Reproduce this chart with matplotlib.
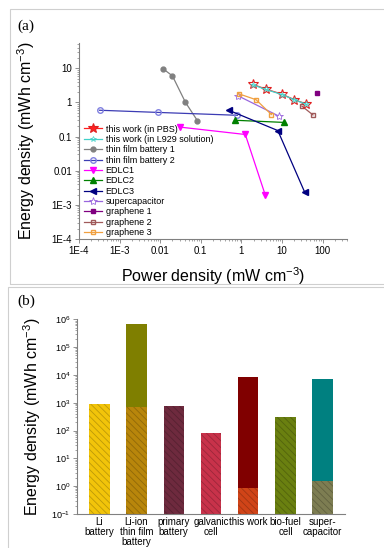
import matplotlib
matplotlib.use("Agg")
import matplotlib.pyplot as plt
from matplotlib.patches import Rectangle
import numpy as np

plt.rcParams['font.family'] = ['Liberation Sans', 'DejaVu Sans']
plt.rcParams['hatch.linewidth'] = 0.6
plt.rcParams['mathtext.default'] = 'regular'

# ---------------- Panel (a) data ----------------
pbs_x = [1.9, 4.0, 10.0, 20.0, 40.0]
pbs_y = [3.4, 2.45, 1.75, 1.2, 0.9]
l929_x = [1.9, 4.0, 10.0, 20.0, 40.0]
l929_y = [3.3, 2.4, 1.7, 1.2, 0.88]
tfb1_x = [0.012, 0.02, 0.042, 0.083]
tfb1_y = [9.5, 6.0, 1.0, 0.29]
tfb2_x = [3.2e-4, 0.0087, 0.8]
tfb2_y = [0.59, 0.51, 0.42]
edlc1_x = [0.03, 1.25, 3.9]
edlc1_y = [0.19, 0.115, 0.0019]
edlc2_x = [0.71, 11.0]
edlc2_y = [0.3, 0.26]
edlc3_x = [0.49, 7.9, 36.0]
edlc3_y = [0.59, 0.15, 0.0024]
sc_x = [0.84, 8.3]
sc_y = [1.55, 0.4]
g1_x = [74.0]
g1_y = [1.95]
g2_x = [31.0, 58.0]
g2_y = [0.78, 0.43]
g3_x = [0.85, 2.3, 5.5]
g3_y = [1.8, 1.2, 0.44]

# ---------------- Panel (b) data ----------------
categories = ["Li\nbattery", "Li-ion\nthin film\nbattery", "primary\nbattery",
              "galvanic\ncell", "this work", "bio-fuel\ncell", "super-\ncapacitor"]
lower_vals = [900, 720, 750, 80, 0.85, 300, 1.5]
upper_vals = [None, 7.0e5, None, None, 8700, None, 7400]
lower_colors = ['#f2c40a', '#b8860b', '#6e2a3e', '#c8324a', '#d04418', '#6a8010', '#7d7d52']
upper_colors = [None, '#7f7f00', None, None, '#800000', None, '#008080']

fig = plt.figure(figsize=(3.84, 5.48), dpi=100)
W, H = 384.0, 548.0

# panel frames
fig.add_artist(Rectangle((10 / W, 1 - 284 / H), 1.0, 275 / H, transform=fig.transFigure,
                         fill=False, edgecolor='#cfcfcf', lw=0.8))
fig.add_artist(Rectangle((8 / W, -0.05), 1.0, 1 - 287 / H + 0.05, transform=fig.transFigure,
                         fill=False, edgecolor='#cfcfcf', lw=0.8))

fig.text(17 / W, 1 - 26 / H, "(a)", family=['Liberation Serif', 'DejaVu Serif'],
         fontsize=11, va='center', ha='left')
fig.text(17 / W, 1 - 301 / H, "(b)", family=['Liberation Serif', 'DejaVu Serif'],
         fontsize=11, va='center', ha='left')

# ---------------- Axes (a) ----------------
axa = fig.add_axes([79 / W, 1 - 239 / H, (347 - 79) / W, (239 - 43) / H])
axa.set_xscale('log')
axa.set_yscale('log')

lw = 0.9
axa.plot(pbs_x, pbs_y, color='#ff2020', lw=lw, marker='*', ms=7.5, mfc='white',
         mec='#e02020', mew=0.8, label='this work (in PBS)', zorder=3)
axa.plot(l929_x, l929_y, color='#40d0c8', lw=lw, marker='*', ms=4, mfc='none',
         mec='#40d0c8', mew=0.5, label='this work (in L929 solution)', zorder=4)
axa.plot(tfb1_x, tfb1_y, color='#808080', lw=lw, marker='o', ms=3.5,
         label='thin film battery 1')
axa.plot(tfb2_x, tfb2_y, color='#3c3cb4', lw=lw, marker='o', ms=4, mfc='none',
         mec='#8080e0', label='thin film battery 2')
axa.plot(edlc1_x, edlc1_y, color='#ff00ff', lw=lw, marker='v', ms=4.5,
         label='EDLC1')
axa.plot(edlc2_x, edlc2_y, color='#008000', lw=lw, marker='^', ms=4.5,
         label='EDLC2')
axa.plot(edlc3_x, edlc3_y, color='#000080', lw=lw, marker='<', ms=4.5,
         label='EDLC3')
axa.plot(sc_x, sc_y, color='#9966dd', lw=lw, marker='*', ms=6, mfc='white',
         mec='#9966dd', mew=0.6, label='supercapacitor')
axa.plot(g1_x, g1_y, color='#800080', lw=lw, marker='s', ms=3.5,
         label='graphene 1')
axa.plot(g2_x, g2_y, color='#a05a5a', lw=lw, marker='s', ms=3.5, mfc='none',
         label='graphene 2')
axa.plot(g3_x, g3_y, color='#f0a040', lw=lw, marker='s', ms=3.5, mfc='none',
         label='graphene 3')

axa.set_xlim(1e-4, 400)
axa.set_ylim(1e-4, 55)
axa.set_xticks([1e-4, 1e-3, 1e-2, 1e-1, 1, 10, 100])
axa.set_xticklabels(['1E-4', '1E-3', '0.01', '0.1', '1', '10', '100'])
axa.set_yticks([1e-4, 1e-3, 1e-2, 1e-1, 1, 10])
axa.set_yticklabels(['1E-4', '1E-3', '0.01', '0.1', '1', '10'])
axa.tick_params(which='major', labelsize=7, direction='out', length=3, width=0.6,
                color='#808080', pad=2)
axa.tick_params(which='minor', direction='out', length=1.5, width=0.5, color='#808080')
for s in ['top', 'right']:
    axa.spines[s].set_visible(False)
for s in ['left', 'bottom']:
    axa.spines[s].set_color('#808080')
    axa.spines[s].set_linewidth(0.8)
axa.set_xlabel('Power density (mW cm$^{-3}$)', fontsize=11.5)
axa.set_ylabel('Energy density (mWh cm$^{-3}$)', fontsize=11.5)
axa.xaxis.set_label_coords(0.5, -0.135)
axa.yaxis.set_label_coords(-0.155, 0.5)

leg = axa.legend(loc='lower left', bbox_to_anchor=(0.012, 0.0), frameon=False,
                 fontsize=6.5, labelspacing=0.15, handlelength=2.0, handletextpad=0.4,
                 borderaxespad=0.2, borderpad=0.0)
leg.legend_handles[0].set_markerfacecolor('#ff2020')

# ---------------- Axes (b) ----------------
axb = fig.add_axes([77 / W, 1 - 514 / H, (345 - 77) / W, (514 - 319.3) / H])
axb.set_yscale('log')
xpos = np.arange(len(categories))
bw = 0.55
base = 0.1
for i in range(len(categories)):
    axb.bar(xpos[i], lower_vals[i] - base, bottom=base, width=bw,
            color=lower_colors[i], edgecolor='#00000038', hatch='\\\\\\\\\\', lw=0)
    if upper_vals[i] is not None:
        axb.bar(xpos[i], upper_vals[i] - lower_vals[i], bottom=lower_vals[i], width=bw,
                color=upper_colors[i], lw=0)
axb.set_xlim(-0.6, 6.6)
axb.set_ylim(0.1, 1e6)
axb.set_yticks([1e-1, 1e0, 1e1, 1e2, 1e3, 1e4, 1e5, 1e6])
axb.set_yticklabels(['$10^{-1}$', '$10^{0}$', '$10^{1}$', '$10^{2}$', '$10^{3}$',
                     '$10^{4}$', '$10^{5}$', '$10^{6}$'])
axb.set_xticks(xpos)
axb.set_xticklabels(categories, fontsize=7, linespacing=1.0)
axb.tick_params(axis='x', length=0, pad=2.5)
axb.tick_params(axis='y', which='major', labelsize=6.5, direction='out', length=3,
                width=0.6, color='#808080', pad=2)
axb.tick_params(axis='y', which='minor', direction='out', length=1.5, width=0.5,
                color='#808080')
for s in ['top', 'right']:
    axb.spines[s].set_visible(False)
for s in ['left', 'bottom']:
    axb.spines[s].set_color('#808080')
    axb.spines[s].set_linewidth(0.8)
axb.set_ylabel('Energy density (mWh cm$^{-3}$)', fontsize=11.5)
axb.yaxis.set_label_coords(-0.127, 0.5)

fig.savefig('out.png', dpi=100)
